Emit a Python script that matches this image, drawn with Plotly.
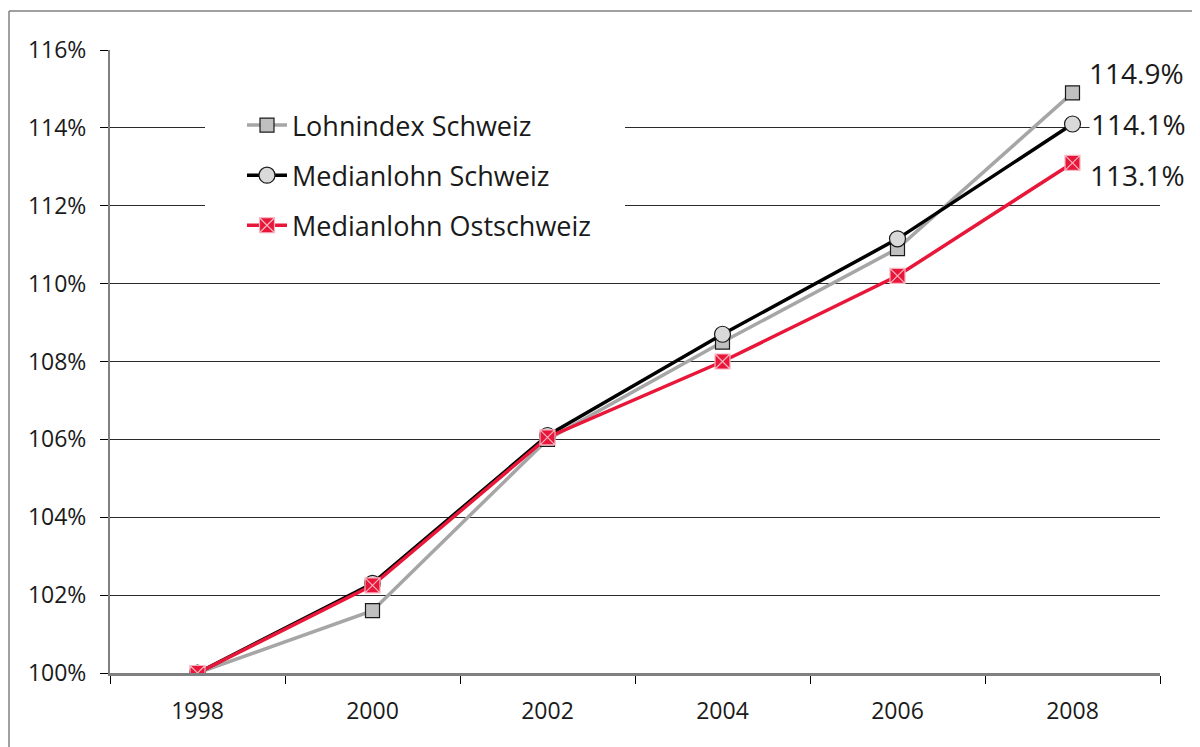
import plotly.graph_objects as go

years = ["1998", "2000", "2002", "2004", "2006", "2008"]
lohnindex_ch = [100.0, 101.6, 106.0, 108.5, 110.9, 114.9]
median_ch = [100.0, 102.3, 106.1, 108.7, 111.15, 114.1]
median_ost = [100.0, 102.25, 106.05, 108.0, 110.2, 113.1]
y_ticks = [100, 102, 104, 106, 108, 110, 112, 114, 116]

FONT = "Open Sans"
L, T, PW, PH = 102, 42, 1050, 623  # page offset of 8px from body margin

fig = go.Figure()
fig.add_trace(go.Scatter(
    x=years, y=lohnindex_ch, name="Lohnindex Schweiz", mode="lines+markers",
    line=dict(color="#a6a6a6", width=3.5),
    marker=dict(symbol="square", size=14, color="#c0c0c0", line=dict(color="#1a1a1a", width=1.2)),
    legendgroup="a"))
fig.add_trace(go.Scatter(
    x=years, y=median_ch, name="Medianlohn Schweiz", mode="lines+markers",
    line=dict(color="#000000", width=3.5),
    marker=dict(symbol="circle", size=16, color="#d9d9d9", line=dict(color="#1a1a1a", width=1.2)),
    legendgroup="b"))
fig.add_trace(go.Scatter(
    x=years, y=median_ost, name="Medianlohn Ostschweiz", mode="lines+markers",
    line=dict(color="#e8173a", width=3.5),
    marker=dict(symbol="square-x", size=15, color="#e8173a", line=dict(color="#f7b3c0", width=1.2)),
    legendgroup="c"))

# end labels (category axis: position by index)
offsets = [(14, 20), (16, 0), (15, -12)]
for series, (dx, dy) in zip([lohnindex_ch, median_ch, median_ost], offsets):
    fig.add_annotation(x=len(years) - 1, y=series[-1], text=f"{series[-1]:.1f}%",
                       showarrow=False, xanchor="left", yanchor="middle",
                       xshift=dx, yshift=dy, bgcolor="white", borderpad=1,
                       font=dict(family=FONT, size=28, color="#1a1a1a"))

# white mask behind legend (hides gridlines)
fig.add_shape(type="rect", xref="paper", yref="paper",
              x0=(205 - 110) / PW, x1=(625 - 110) / PW,
              y0=(673 - 252) / PH, y1=(673 - 98) / PH,
              line=dict(width=0), fillcolor="white", layer="above")

# outer border (left and top edges; right/bottom lie outside the window)
top_y = 1 + (T - 3) / PH
left_x = (1 - L) / PW
fig.add_shape(type="line", xref="paper", yref="paper",
              x0=left_x, x1=left_x, y0=-0.3, y1=top_y,
              line=dict(color="#808080", width=1.5), layer="below")
fig.add_shape(type="line", xref="paper", yref="paper",
              x0=left_x, x1=1.3, y0=top_y, y1=top_y,
              line=dict(color="#808080", width=1.5), layer="below")

fig.update_layout(
    width=1200, height=747,
    margin=dict(l=L, r=1200 - L - PW, t=T, b=747 - T - PH, pad=0),
    paper_bgcolor="white", plot_bgcolor="white",
    font=dict(family=FONT, color="#1a1a1a"),
    showlegend=True,
    legend=dict(x=(242 - 110) / PW, y=(673 - 101) / PH, xanchor="left", yanchor="top",
                bgcolor="rgba(255,255,255,0)", borderwidth=0,
                font=dict(family=FONT, size=27, color="#1a1a1a"),
                tracegroupgap=12, itemwidth=40),
    xaxis=dict(type="category", tickson="boundaries", ticks="outside", ticklen=8,
               tickcolor="#000000", tickwidth=1,
               showline=True, linecolor="#808080", linewidth=2.5,
               showgrid=False, tickfont=dict(size=23, family=FONT, color="#1a1a1a"),
               ticklabelstandoff=16, range=[-0.5, 5.5]),
    yaxis=dict(range=[100, 116], tickvals=y_ticks, ticktext=[f"{v}%" for v in y_ticks],
               ticks="outside", ticklen=8, tickcolor="#000000", tickwidth=1,
               showline=True, linecolor="#808080", linewidth=2,
               showgrid=True, gridcolor="#2a2a2a", gridwidth=1, zeroline=False,
               ticklabelstandoff=9,
               tickfont=dict(size=23, family=FONT, color="#1a1a1a")),
)

fig.write_html("out.html")
